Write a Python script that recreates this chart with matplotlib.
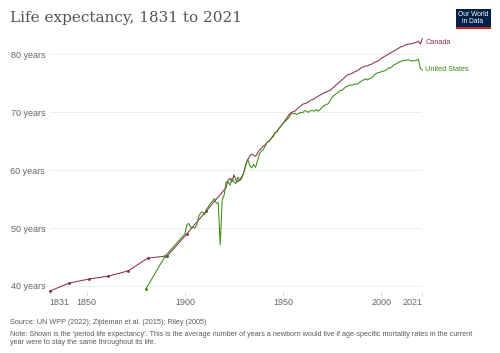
import matplotlib
matplotlib.use("Agg")
import matplotlib.pyplot as plt
import matplotlib.patches as mpatches

# --- data ---
canada_years = [1831, 1841, 1851, 1861, 1871, 1881, 1891, 1901, 1911] + list(range(1921, 2022))
canada_le = [39.1, 40.5, 41.2, 41.7, 42.6, 44.8, 45.2, 49.0, 53.0,
             57.0, 58.3, 58.6, 58.0, 59.2, 58.3, 58.0, 58.4, 58.9, 59.6,
             61.0, 61.8, 62.4, 62.8, 62.6, 62.4, 62.9, 63.5, 63.8, 64.2,
             64.4, 64.9, 65.1, 65.5, 66.0, 66.4, 66.7, 67.3, 67.6, 68.1,
             68.6, 69.0, 69.6, 69.9, 70.1, 70.2, 70.5, 70.8, 71.1, 71.4,
             71.5, 71.6, 71.8, 72.1, 72.2, 72.4, 72.6, 72.8, 73.0, 73.2,
             73.4, 73.5, 73.7, 73.8, 74.1, 74.4, 74.7, 75.0, 75.3, 75.6,
             75.9, 76.2, 76.5, 76.6, 76.7, 76.9, 77.1, 77.2, 77.5, 77.7,
             77.9, 78.0, 78.0, 78.2, 78.3, 78.5, 78.7, 78.8, 79.0, 79.3,
             79.5, 79.7, 79.9, 80.1, 80.3, 80.5, 80.7, 80.9, 81.1, 81.3,
             81.4, 81.6, 81.7, 81.8, 81.8, 81.9, 82.0, 82.1, 82.3, 81.8,
             82.7]

us_years = [1880, 1890, 1900] + list(range(1901, 2022))
us_le = [39.4, 45.2, 49.0,
         50.6, 50.8, 50.1, 50.2, 50.0, 50.5, 52.0, 52.6, 52.8, 52.3,
         53.2, 53.7, 54.3, 54.6, 55.1, 54.3, 54.4, 47.1, 54.8, 55.7,
         58.0, 58.0, 57.4, 58.6, 58.0, 57.7, 58.8, 58.2, 58.6, 59.6,
         60.8, 61.9, 60.9, 60.4, 61.0, 60.5, 61.6, 62.8, 63.3, 63.6,
         64.2, 64.9, 65.0, 65.5, 65.8, 66.5, 66.7, 67.2, 67.6, 68.1,
         68.4, 68.7, 69.1, 69.7, 69.8, 69.8, 69.6, 69.8, 70.0, 69.9,
         70.3, 70.2, 70.0, 70.3, 70.3, 70.2, 70.5, 70.2, 70.5, 70.9,
         71.2, 71.3, 71.5, 72.0, 72.6, 72.9, 73.2, 73.4, 73.8, 73.8,
         74.1, 74.4, 74.5, 74.7, 74.7, 74.8, 74.9, 74.9, 75.2, 75.4,
         75.6, 75.8, 75.6, 75.8, 75.9, 76.2, 76.6, 76.8, 76.9, 77.0,
         77.1, 77.2, 77.4, 77.7, 77.7, 78.0, 78.3, 78.4, 78.7, 78.8,
         78.9, 79.0, 79.0, 79.1, 78.9, 78.9, 78.9, 79.0, 79.2, 77.6,
         77.3]

y_ticks = [40, 50, 60, 70, 80]
y_tick_labels = ["40 years", "50 years", "60 years", "70 years", "80 years"]
x_ticks = [1831, 1850, 1900, 1950, 2000, 2021]

CANADA_COLOR = "#8b2f4c"
US_COLOR = "#3d8b16"
FONT = ["Liberation Sans", "DejaVu Sans"]

plt.rcParams["font.family"] = FONT

fig = plt.figure(figsize=(5.0, 3.53), dpi=100, facecolor="white")
ax = fig.add_axes([0.099, 0.1603, 0.7456, 0.7428])
ax.set_xlim(1831, 2021)
ax.set_ylim(38.2, 83.5)

for s in ax.spines.values():
    s.set_visible(False)

ax.set_yticks(y_ticks)
ax.set_yticklabels(y_tick_labels)
ax.grid(axis="y", color="#ececec", linewidth=0.7)
ax.set_axisbelow(True)
ax.tick_params(axis="y", length=0, pad=3.2, labelsize=6.5, labelcolor="#666666")

ax.set_xticks(x_ticks)
ax.set_xticklabels([str(y) for y in x_ticks])
ax.tick_params(axis="x", direction="in", length=3, width=0.5, color="#cccccc",
               pad=1.5, labelsize=6.5, labelcolor="#666666")
xlabels = ax.get_xticklabels()
xlabels[0].set_ha("left")
xlabels[-1].set_ha("right")

# lines
ax.plot(canada_years, canada_le, color=CANADA_COLOR, lw=0.75, clip_on=False)
ax.plot(canada_years[:9], canada_le[:9], "o", color=CANADA_COLOR, ms=1.1, clip_on=False)
ax.plot(us_years, us_le, color=US_COLOR, lw=0.75, clip_on=False)
ax.plot(us_years[:2], us_le[:2], "o", color=US_COLOR, ms=1.1, clip_on=False)

ax.text(2022.5, 82.0, "Canada", color=CANADA_COLOR, fontsize=5.3,
        va="center", ha="left", clip_on=False)
ax.text(2022.5, 77.4, "United States", color=US_COLOR, fontsize=5.3,
        va="center", ha="left", clip_on=False)

# title
fig.text(10 / 500, 1 - 22 / 353, "Life expectancy, 1831 to 2021",
         family="DejaVu Serif", fontsize=11, color="#555555", va="baseline")

# logo
W, H = 500, 353
fig.patches.append(mpatches.Rectangle((455.5 / W, 1 - 29.3 / H), 35.5 / W, 20.3 / H,
                                      transform=fig.transFigure, facecolor="#002147",
                                      edgecolor="none"))
fig.patches.append(mpatches.Rectangle((455.5 / W, 1 - 29.3 / H), 35.5 / W, 2 / H,
                                      transform=fig.transFigure, facecolor="#ce261e",
                                      edgecolor="none"))
fig.text(473 / W, 1 - 18 / H, "Our World\nin Data", color="white", fontsize=4.8,
         ha="center", va="center", linespacing=1.0)

# footer
fig.text(10 / W, 1 - 322 / H, "Source: UN WPP (2022); Zijdeman et al. (2015); Riley (2005)",
         fontsize=5.25, color="#5b5b5b", va="center")
fig.text(10 / W, 1 - 335 / H,
         "Note: Shown is the \u2018period life expectancy\u2019. This is the average number of years "
         "a newborn would live if age-specific mortality rates in the current",
         fontsize=5.25, color="#5b5b5b", va="center")
fig.text(10 / W, 1 - 342.5 / H, "year were to stay the same throughout its life.",
         fontsize=5.25, color="#5b5b5b", va="center")

fig.savefig("out.png", dpi=100, facecolor="white")
